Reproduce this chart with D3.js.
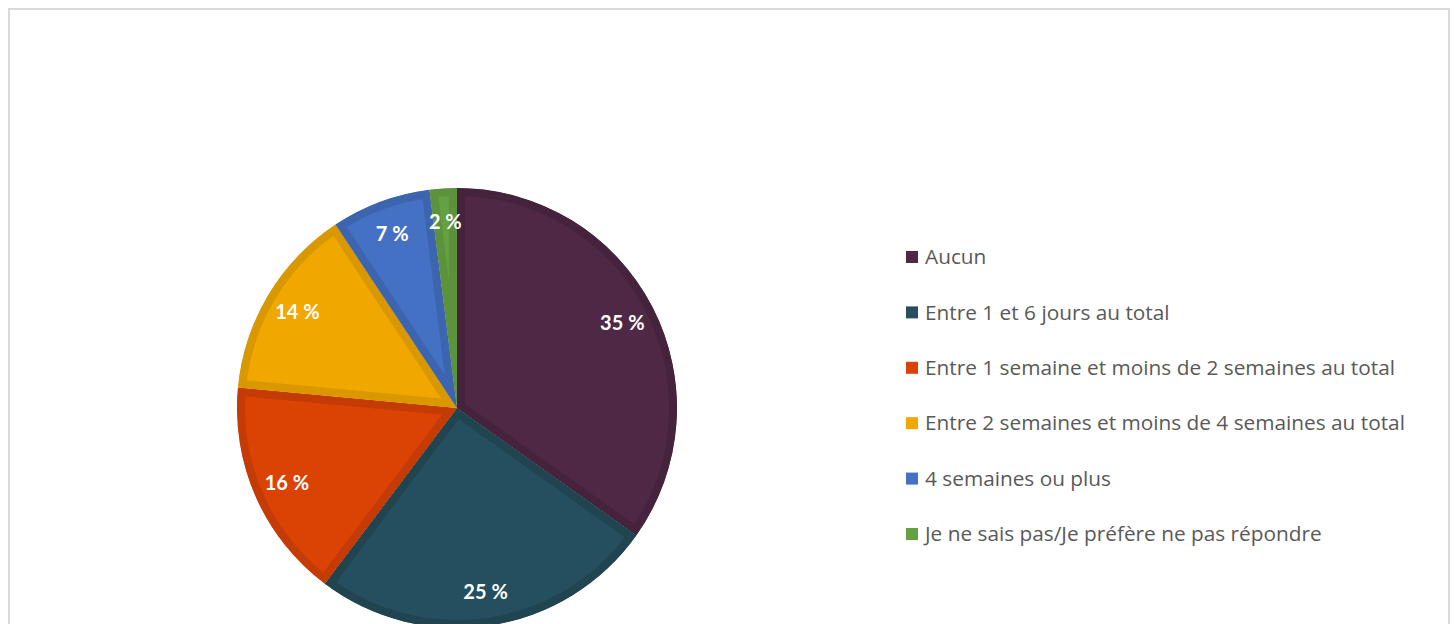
<!DOCTYPE html>
<meta charset="utf-8">
<style>
body { margin: 0; background: #fff; }
.label text { font: bold 20px Lato, "Open Sans", sans-serif; fill: #fff; text-anchor: middle; }
.legend text { font: 20.8px "Open Sans", Lato, sans-serif; fill: #595959; }
</style>
<svg width="1454" height="624"></svg>
<script src="https://cdnjs.cloudflare.com/ajax/libs/d3/7.8.5/d3.min.js"></script>
<script>

// data //
var categories = [
  "Aucun",
  "Entre 1 et 6 jours au total",
  "Entre 1 semaine et moins de 2 semaines au total",
  "Entre 2 semaines et moins de 4 semaines au total",
  "4 semaines ou plus",
  "Je ne sais pas/Je préfère ne pas répondre"
];
var values = [34.8, 25.4, 16.2, 14.2, 7.3, 2.0];
var fills = ["#4f2845", "#254e5e", "#da4304", "#f0a700", "#4471c3", "#65a043"];
var borders = ["#45233d", "#204551", "#c43b05", "#d99700", "#3d65af", "#5c923c"];

var svg = d3.select("svg");

// frame //
svg.append("rect")
  .attr("x", 9).attr("y", 9)
  .attr("width", 1440).attr("height", 640)
  .attr("fill", "none")
  .attr("stroke", "#d9d9d9")
  .attr("stroke-width", 2);

var cx = 457, cy = 408, radius = 220;
var g = svg.append("g").attr("transform", "translate(" + cx + "," + cy + ")");

var data = categories.map(function(c, i) { return {name: c, value: values[i], i: i}; });

var pie = d3.pie().sort(null).value(function(d) { return d.value; });
var arc = d3.arc().innerRadius(0).outerRadius(radius);
var labelArc = d3.arc().innerRadius(186).outerRadius(186);

var slices = g.selectAll(".slice")
  .data(pie(data))
  .enter().append("g")
  .attr("class", "slice");

slices.append("clipPath")
  .attr("id", function(d) { return "clip" + d.data.i; })
  .append("path")
  .attr("d", arc);

slices.append("path")
  .attr("d", arc)
  .attr("fill", function(d) { return fills[d.data.i]; })
  .attr("stroke", function(d) { return borders[d.data.i]; })
  .attr("stroke-width", 16)
  .attr("stroke-linejoin", "miter")
  .attr("clip-path", function(d) { return "url(#clip" + d.data.i + ")"; });

// labels //
g.append("g").attr("class", "label")
  .selectAll("text")
  .data(pie(data))
  .enter().append("text")
  .attr("transform", function(d) { return "translate(" + labelArc.centroid(d) + ")"; })
  .attr("dy", "0.35em")
  .text(function(d) { return Math.round(d.data.value) + " %"; });

// legend //
var legend = svg.append("g").attr("class", "legend")
  .selectAll("g")
  .data(data)
  .enter().append("g")
  .attr("transform", function(d, i) { return "translate(906," + (257 + i * 55.4) + ")"; });

legend.append("rect")
  .attr("x", 0).attr("y", -6)
  .attr("width", 12).attr("height", 12)
  .attr("fill", function(d) { return fills[d.i]; });

legend.append("text")
  .attr("x", 19)
  .attr("dy", "0.35em")
  .text(function(d) { return d.name; });

</script>
